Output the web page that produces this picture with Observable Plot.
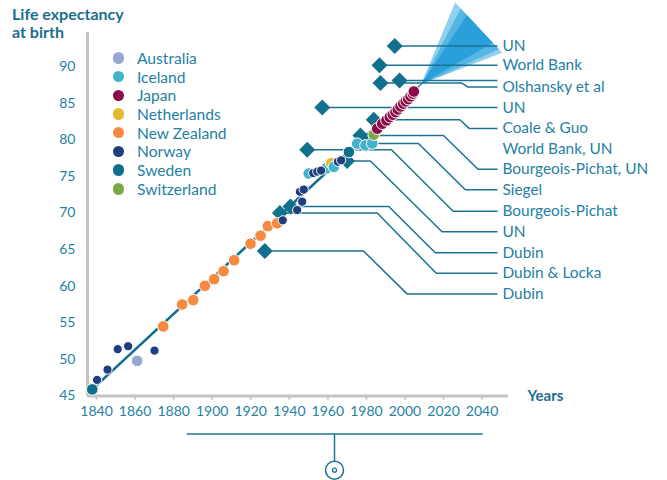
<!DOCTYPE html>
<html><head><meta charset="utf-8">
<script src="https://cdn.jsdelivr.net/npm/d3@7"></script>
<script src="https://cdn.jsdelivr.net/npm/@observablehq/plot@0.6"></script>
<style>
body{margin:0;background:#fff;font-family:Lato,"Open Sans",sans-serif;}
#wrap{position:relative;width:667px;height:480px;overflow:hidden;}
#title{position:absolute;left:12px;top:4.8px;font-weight:700;font-size:16px;line-height:18px;color:#1b6e8c;}
#legend{position:absolute;left:112.5px;top:48.6px;}
.li{height:18.7px;display:flex;align-items:center;font-size:15.6px;color:#2581a2;white-space:nowrap;}
.sw{width:11.5px;height:11.5px;border-radius:50%;margin-right:13px;flex:none;}
</style></head><body>
<div id="wrap"><div id="chart"></div><div id="title">Life expectancy<br>at birth</div><div id="legend"></div></div>
<script>
// ---- categories & colours
const countries = ["Australia","Iceland","Japan","Netherlands","New Zealand","Norway","Sweden","Switzerland"];
const countryColors = ["#93a8d3","#45b1cb","#8b0b4a","#e4b92f","#f68a43","#1e3e7d","#0e6f8c","#79aa48"];

// ---- record life expectancy points (year, life expectancy)
const yearsAustralia = [1861.1];
const leAustralia = [49.8];
const yearsIceland = [1950.1, 1959.3, 1963.1, 1975.2, 1979.5, 1983.0];
const leIceland = [75.4, 76.1, 76.3, 79.47, 79.24, 79.5];
const yearsJapan = [1985.6, 1988.2, 1990.4, 1992.1, 1993.7, 1995.1, 1996.3, 1997.7, 1999.1, 2000.4, 2001.7, 2002.9, 2004.1, 2004.6];
const leJapan = [81.52, 82.2, 82.65, 83.1, 83.43, 83.79, 84.15, 84.56, 84.93, 85.25, 85.56, 85.93, 86.3, 86.6];
const yearsNetherlands = [1961.7];
const leNetherlands = [76.8];
const yearsNewZealand = [1874.6, 1884.4, 1890.2, 1896.2, 1901.0, 1905.9, 1911.4, 1919.9, 1925.1, 1928.9, 1933.7];
const leNewZealand = [54.5, 57.5, 58.1, 60.05, 60.96, 62.05, 63.55, 65.8, 66.9, 68.2, 68.6];
const yearsNorway = [1840.3, 1845.7, 1851.0, 1856.4, 1870.1, 1936.6, 1944.1, 1945.5, 1946.7, 1947.5, 1952.4, 1954.5, 1956.5, 1965.2, 1966.9];
const leNorway = [47.2, 48.6, 51.4, 51.8, 51.2, 69.0, 70.4, 72.9, 71.55, 73.2, 75.45, 75.65, 75.8, 77.0, 77.2];
const yearsSweden = [1837.8, 1970.9];
const leSweden = [45.9, 78.33];
const yearsSwitzerland = [1983.8];
const leSwitzerland = [80.7];

// ---- best-practice trend line and forecast fan
const trendYear = [1836.5, 2004.5, 2008.4];
const trendLE = [45.6, 86.6, 87.6];
const fanTipYear = 2008.4, fanTipLE = 87.6;
const fanEdgeYearA = [2026.0, 2028.9, 2032.1];
const fanEdgeLEA = [98.75, 97.93, 97.04];
const fanEdgeYearB = [2050.4, 2048.7, 2045.5];
const fanEdgeLEB = [91.9, 92.38, 93.27];
const fanColors = ["#8fd0ef", "#55b6e3", "#2a9fda"];

// ---- forecasts of maximum life expectancy (diamonds)
const forecastYear = [1994.7, 1986.8, 1997.2, 1987.3, 1957.1, 1983.8, 1976.9, 1980.0, 1949.3, 1970.0, 1940.6, 1935.1, 1927.3];
const forecastLE = [92.8, 90.2, 88.1, 87.75, 84.4, 82.74, 80.6, 79.5, 78.65, 77.1, 70.9, 70.0, 64.8];
const forecastTarget = [0, 1, null, 2, 3, 4, 6, 7, 8, 9, 10, 11, 12];
const bendStartYear = [null, null, null, 2029.5, null, 2028.5, 2020.0, 2007.0, 1993.0, 1982.1, 1991.6, 1985.6, 1978.5];
const bendEndYear = [null, null, null, 2032.5, null, 2033.3, 2037.9, 2031.3, 2025.0, 2019.2, 2015.7, 2016.2, 2001.2];
const leaderEndYear = 2048;
const forecastLabels = ["UN","World Bank","Olshansky et al","UN","Coale & Guo","World Bank, UN","Bourgeois-Pichat, UN","Siegel","Bourgeois-Pichat","UN","Dubin","Dubin & Locka","Dubin"];
const forecastLabelLE = [92.8, 90.2, 87.22, 84.4, 81.56, 78.77, 75.97, 73.17, 70.24, 67.44, 64.58, 61.78, 58.92];

// ---- ticks
const xTicks = [1840, 1860, 1880, 1900, 1920, 1940, 1960, 1980, 2000, 2020, 2040];
const yTicks = [45, 50, 55, 60, 65, 70, 75, 80, 85, 90];

// ---- build tables
const series = [
  ["Australia", yearsAustralia, leAustralia], ["Iceland", yearsIceland, leIceland],
  ["Japan", yearsJapan, leJapan], ["Netherlands", yearsNetherlands, leNetherlands],
  ["New Zealand", yearsNewZealand, leNewZealand], ["Norway", yearsNorway, leNorway],
  ["Sweden", yearsSweden, leSweden], ["Switzerland", yearsSwitzerland, leSwitzerland]
];
const records = series.flatMap(([c, ys, ls]) => ys.map((y, i) => ({country: c, year: y, le: ls[i]})))
  .sort((a, b) => a.year - b.year);

const fanPts = fanColors.flatMap((col, k) => [
  {band: k, year: fanTipYear, le: fanTipLE},
  {band: k, year: fanEdgeYearA[k], le: fanEdgeLEA[k]},
  {band: k, year: fanEdgeYearB[k], le: fanEdgeLEB[k]},
  {band: k, year: fanTipYear, le: fanTipLE}
]);

const leaderPts = forecastYear.flatMap((yr, i) => {
  const pts = [{id: i, year: yr, le: forecastLE[i]}];
  const t = forecastTarget[i];
  if (bendStartYear[i] != null) {
    pts.push({id: i, year: bendStartYear[i], le: forecastLE[i]});
    pts.push({id: i, year: bendEndYear[i], le: forecastLabelLE[t]});
    pts.push({id: i, year: leaderEndYear, le: forecastLabelLE[t]});
  } else {
    pts.push({id: i, year: leaderEndYear, le: t == null ? forecastLE[i] : forecastLabelLE[t]});
  }
  return pts;
});
const forecasts = forecastYear.map((y, i) => ({year: y, le: forecastLE[i]}));
const labelRows = forecastLabels.map((l, i) => ({label: l, le: forecastLabelLE[i]}));

const teal = "#12708e", lineTeal = "#1a7393", textTeal = "#2581a2", titleTeal = "#1b6e8c", axisGray = "#c4c4c4";

const plot = Plot.plot({
  width: 667, height: 480,
  marginLeft: 87, marginRight: 159, marginTop: 32, marginBottom: 84.5,
  x: {domain: [1835.33, 2053.7], axis: null, label: null},
  y: {domain: [45, 94.66], axis: null, label: null},
  color: {domain: countries, range: countryColors},
  r: {type: "identity"},
  style: {fontFamily: "Lato, sans-serif", background: "transparent", overflow: "visible"},
  marks: [
    ...fanColors.map((col, k) => Plot.line(fanPts.filter(d => d.band === k), {x: "year", y: "le", fill: col, stroke: "none"})),
    Plot.ruleY([45], {stroke: axisGray, strokeWidth: 3}),
    Plot.ruleX([1835.33], {stroke: axisGray, strokeWidth: 3}),
    Plot.axisX({ticks: xTicks, tickSize: 4, stroke: axisGray, strokeWidth: 2, text: null, label: null}),
    Plot.axisX({ticks: xTicks, tickSize: 0, tickPadding: 10.5, tickFormat: "d", fill: textTeal, fontSize: 14, label: null}),
    Plot.axisY({ticks: yTicks, tickSize: 0, tickPadding: 12, tickFormat: "d", fill: textTeal, fontSize: 14, label: null}),
    Plot.line(trendYear.slice(0, 2).map((y, i) => ({year: y, le: trendLE[i]})), {x: "year", y: "le", stroke: teal, strokeWidth: 2.6}),
    Plot.line(trendYear.slice(1).map((y, i) => ({year: y, le: trendLE[i + 1]})), {x: "year", y: "le", stroke: teal, strokeWidth: 1.2}),
    Plot.line(leaderPts, {x: "year", y: "le", z: "id", stroke: lineTeal, strokeWidth: 1.5, strokeLinejoin: "miter", strokeLinecap: "butt"}),
    Plot.dot(forecasts, {x: "year", y: "le", symbol: d3.symbolDiamond2, r: 7.2, fill: teal, stroke: "none"}),
    Plot.dot(records, {x: "year", y: "le", fill: "country", r: d => d.country === "Norway" ? 4.6 : 5.8, stroke: "white", strokeWidth: 1}),
    Plot.text(labelRows, {y: "le", text: "label", frameAnchor: "right", dx: -6, textAnchor: "start", fill: textTeal, fontSize: 15.4}),
    Plot.text(["Years"], {text: d => d, frameAnchor: "bottom-right", dx: 19, textAnchor: "start", lineAnchor: "middle", fill: titleTeal, fontSize: 15, fontWeight: "bold"})
  ]
});
document.getElementById("chart").appendChild(plot);

// decorative bracket below the axis
const svg = d3.select(plot);
const g = svg.append("g").attr("stroke", lineTeal).attr("stroke-width", 1.5).attr("fill", "none");
g.append("line").attr("x1", 186.7).attr("x2", 482.7).attr("y1", 434).attr("y2", 434);
g.append("line").attr("x1", 334.5).attr("x2", 334.5).attr("y1", 434).attr("y2", 461);
g.append("circle").attr("cx", 334.5).attr("cy", 470.2).attr("r", 9);
g.append("circle").attr("cx", 334.5).attr("cy", 470.2).attr("r", 2).attr("stroke-width", 1.3);

// legend
const leg = document.getElementById("legend");
countries.forEach((c, i) => {
  const row = document.createElement("div"); row.className = "li";
  const sw = document.createElement("span"); sw.className = "sw"; sw.style.background = countryColors[i];
  row.appendChild(sw); row.appendChild(document.createTextNode(c));
  leg.appendChild(row);
});
</script>
</body></html>
